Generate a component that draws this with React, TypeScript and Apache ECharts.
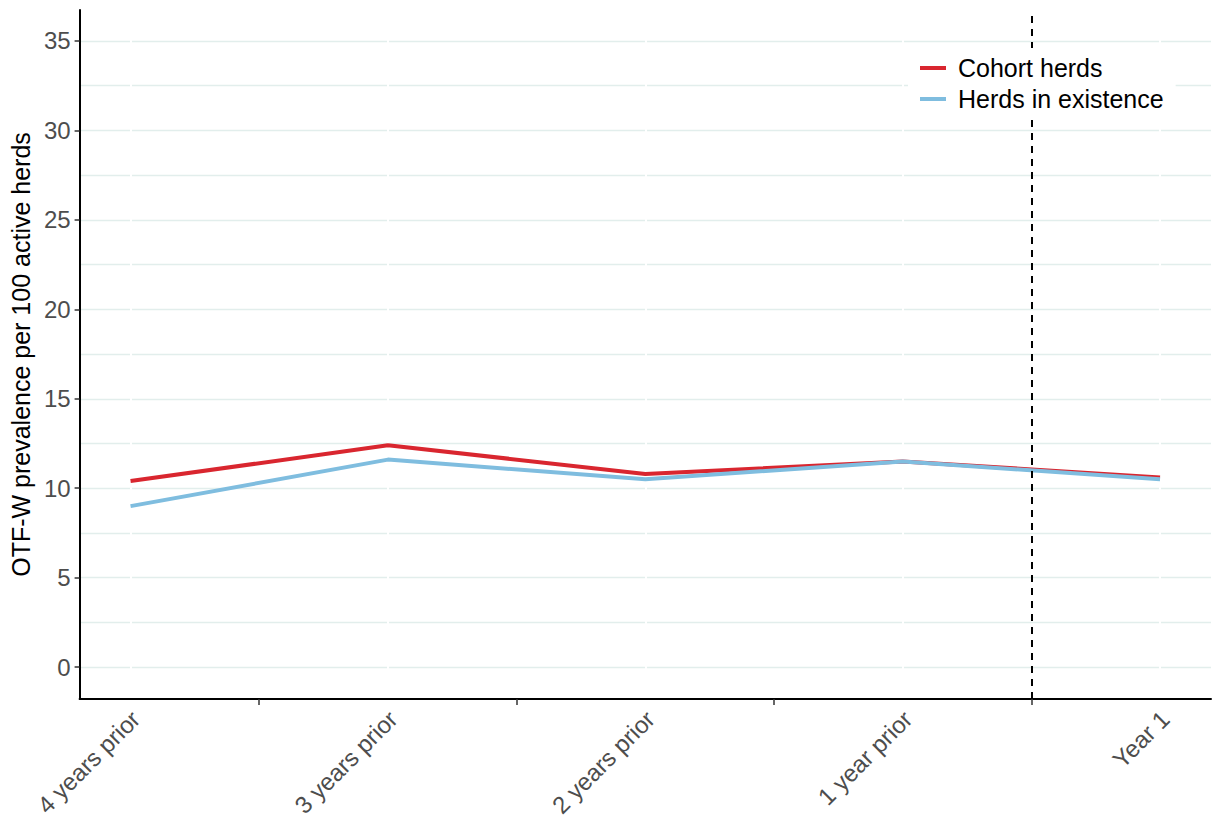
import React, { useEffect, useRef } from "react";
import * as echarts from "echarts";

const categories = ["4 years prior", "3 years prior", "2 years prior", "1 year prior", "Year 1"];
const cohortHerds = [10.4, 12.4, 10.8, 11.5, 10.6];
const herdsInExistence = [9.0, 11.6, 10.5, 11.5, 10.5];
const yMajorTicks = [0, 5, 10, 15, 20, 25, 30, 35];
const yGridValues = [0, 2.5, 5, 7.5, 10, 12.5, 15, 17.5, 20, 22.5, 25, 27.5, 30, 32.5, 35];
const xTickPositions = [0.5, 1.5, 2.5, 3.5];
const yMin = -1.78;
const yMax = 36.73;
const xMin = -0.198;
const xMax = 4.198;
const cutoffPosition = 3.5;

const FONT = "Liberation Sans, Arial, Helvetica, sans-serif";

const categoryIndex = categories.map((_, i) => i);
const labelPositions = categoryIndex.map((i) => i + 0.02);
const cohortData = categories.map((_, i) => [i, cohortHerds[i]]);
const herdsData = categories.map((_, i) => [i, herdsInExistence[i]]);

export default function App() {
  const ref = useRef<HTMLDivElement>(null);
  useEffect(() => {
    document.body.style.margin = "0";
    if (!ref.current) return;
    const chart = echarts.init(ref.current, null, { renderer: "svg" });
    chart.setOption({
      animation: false,
      backgroundColor: "#ffffff",
      textStyle: { fontFamily: FONT },
      grid: { left: 78, right: 1, top: 10, bottom: 123, containLabel: false },
      legend: {
        orient: "vertical",
        left: 908,
        top: 48,
        padding: [6, 12, 6, 12],
        backgroundColor: "#ffffff",
        itemGap: 3,
        itemWidth: 26,
        itemHeight: 4,
        icon: "rect",
        textStyle: { fontSize: 25, color: "#000000", fontFamily: FONT, lineHeight: 28, padding: [0, 0, 0, 7] },
        data: ["Cohort herds", "Herds in existence"],
        z: 10,
      },
      xAxis: {
        type: "value",
        min: xMin,
        max: xMax,
        z: 5,
        axisLine: { show: true, onZero: false, lineStyle: { color: "#000000", width: 2 } },
        axisTick: { show: true, length: 6, customValues: xTickPositions, lineStyle: { color: "#333333", width: 1.5 } },
        axisLabel: {
          rotate: 45,
          fontSize: 24,
          color: "#4d4d4d",
          margin: 16,
          fontFamily: FONT,
          customValues: labelPositions,
          formatter: (v: number) => categories[Math.round(v)] ?? "",
        },
        splitLine: { show: false },
      },
      yAxis: [
        {
          type: "value",
          min: yMin,
          max: yMax,
          z: 5,
          name: "OTF-W prevalence per 100 active herds",
          nameLocation: "middle",
          nameGap: 44,
          nameTextStyle: { fontSize: 25, color: "#000000", fontFamily: FONT },
          axisLine: { show: true, onZero: false, lineStyle: { color: "#000000", width: 2 } },
          axisTick: { show: true, length: 5, customValues: yMajorTicks, lineStyle: { color: "#333333", width: 1.5 } },
          axisLabel: { fontSize: 24, color: "#4d4d4d", margin: 9, customValues: yMajorTicks, fontFamily: FONT },
          splitLine: { show: false },
        },
        {
          type: "value",
          min: yMin,
          max: yMax,
          z: 0,
          axisLine: { show: false },
          axisTick: { show: false, customValues: yGridValues },
          axisLabel: { show: false },
          splitLine: { show: true, lineStyle: { color: "#e2eeec", width: 1.3 } },
        },
      ],
      series: [
        {
          name: "grid-breaks",
          type: "line",
          data: [],
          z: 1,
          silent: true,
          markLine: {
            silent: true,
            z: 1,
            symbol: ["none", "none"],
            label: { show: false },
            lineStyle: { color: "#ffffff", width: 2, type: "solid" },
            data: categoryIndex.map((i) => ({ xAxis: i })),
          },
        },
        {
          name: "Cohort herds",
          type: "line",
          data: cohortData,
          showSymbol: false,
          symbol: "none",
          z: 2,
          lineStyle: { color: "#d9262f", width: 4 },
          itemStyle: { color: "#d9262f" },
          markLine: {
            silent: true,
            z: 4,
            symbol: ["none", "none"],
            label: { show: false },
            lineStyle: { color: "#000000", width: 2, type: [7, 6] },
            data: [{ xAxis: cutoffPosition }],
          },
        },
        {
          name: "Herds in existence",
          type: "line",
          data: herdsData,
          showSymbol: false,
          symbol: "none",
          z: 3,
          lineStyle: { color: "#7fbddf", width: 4 },
          itemStyle: { color: "#7fbddf" },
        },
      ],
    });
    return () => chart.dispose();
  }, []);
  return <div ref={ref} style={{ width: 1212, height: 822 }} />;
}
